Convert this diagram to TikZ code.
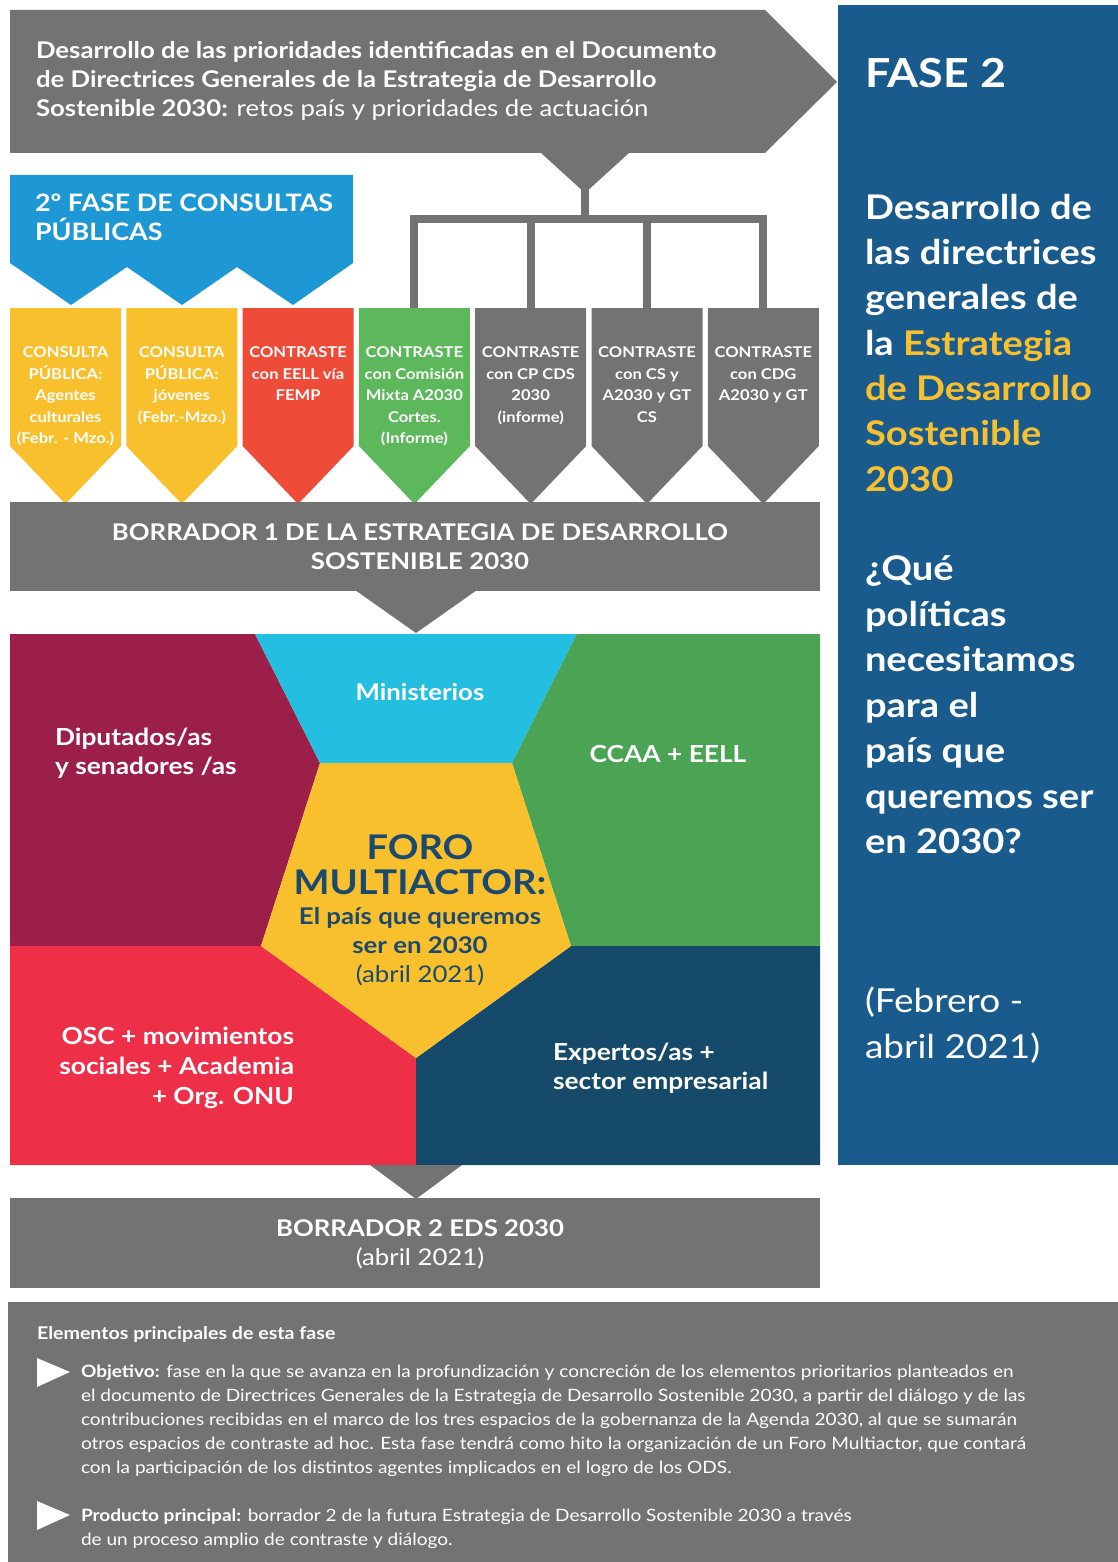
\documentclass[tikz,border=0pt]{standalone}
\usepackage{fontspec}
\setmainfont{Lato}[FakeStretch=1.12]
\definecolor{gris}{RGB}{115,115,115}
\definecolor{azulb}{RGB}{30,152,213}
\definecolor{amar}{RGB}{249,192,45}
\definecolor{rojon}{RGB}{238,76,56}
\definecolor{verdec}{RGB}{92,184,90}
\definecolor{panel}{RGB}{26,91,142}
\definecolor{granate}{RGB}{155,31,73}
\definecolor{cian}{RGB}{36,191,224}
\definecolor{verdef}{RGB}{74,164,84}
\definecolor{rojof}{RGB}{238,47,72}
\definecolor{azulo}{RGB}{21,74,107}
\definecolor{forot}{RGB}{28,74,110}
\newcommand{\fsz}[2]{\fontsize{#1}{#2}\selectfont}
\begin{document}
\begin{tikzpicture}[x=1pt,y=-1pt,
  txt/.style={inner sep=0pt,outer sep=0pt,text=white},
  treeline/.style={draw=gris,line width=8pt,line join=miter,line cap=rect}]
\useasboundingbox (0,0) rectangle (1118,1562);
% right panel
\fill[panel] (838,5) rectangle (1118,1165);
% top arrow
\fill[gris] (10,10) -- (765,10) -- (837,82) -- (765,153) -- (10,153) -- cycle;
\fill[gris] (541,153) -- (629,153) -- (585,193) -- cycle;
% tree
\coordinate (tt) at (585,190);
\coordinate (tb) at (585,219);
\coordinate (c1t) at (414,219); \coordinate (c1b) at (414,310);
\coordinate (c2t) at (530.5,219); \coordinate (c2b) at (530.5,310);
\coordinate (c3t) at (646.5,219); \coordinate (c3b) at (646.5,310);
\coordinate (c4t) at (763,219); \coordinate (c4b) at (763,310);
\draw[treeline] (tt) -- (tb);
\draw[treeline,line cap=butt] (c1b) -- (c1t) -- (c4t) -- (c4b);
\draw[treeline,line cap=butt] (c2t) -- (c2b);
\draw[treeline,line cap=butt] (c3t) -- (c3b);
% blue banner
\fill[azulb] (10,175) -- (353,175) -- (353,263) -- (293,305) -- (237,267) -- (182,305) -- (127,267) -- (71,305) -- (10,263) -- cycle;
\node[txt,anchor=north west,align=left,font=\bfseries\fsz{24}{29}] (banner) at (35,194) {2º FASE DE CONSULTAS\\PÚBLICAS};
% chevrons
\foreach \i/\col/\t in {0/amar/{CONSULTA\\PÚBLICA:\\Agentes\\culturales\\(Febr. - Mzo.)},
  1/amar/{CONSULTA\\PÚBLICA:\\jóvenes\\(Febr.-Mzo.)},
  2/rojon/{CONTRASTE\\con EELL vía\\FEMP},
  3/verdec/{CONTRASTE\\con Comisión\\Mixta A2030\\Cortes.\\(Informe)},
  4/gris/{CONTRASTE\\con CP CDS\\2030\\(informe)},
  5/gris/{CONTRASTE\\con CS y\\A2030 y GT\\CS},
  6/gris/{CONTRASTE\\con CDG\\A2030 y GT}}{
  \pgfmathsetmacro{\L}{10+\i*116.3}
  \pgfmathsetmacro{\R}{\L+111}
  \pgfmathsetmacro{\C}{\L+55.5}
  \fill[\col] (\L,308) -- (\R,308) -- (\R,446) -- (\C,504) -- (\L,446) -- cycle;
  \node[txt,anchor=north,align=center,font=\bfseries\fsz{14.8}{21.5}] (chev\i) at (\C,347) {\t};
}
% borrador 1
\fill[gris] (10,502) rectangle (820,591);
\fill[gris] (355,590) -- (477,590) -- (416,633) -- cycle;
\node[txt,anchor=north,align=center,font=\bfseries\fsz{23}{29}] (b1) at (420,524) {BORRADOR 1 DE LA ESTRATEGIA DE DESARROLLO\\SOSTENIBLE 2030};
% forum
\fill[granate] (10,634) -- (255,634) -- (320,763) -- (261,946) -- (10,946) -- cycle;
\fill[cian] (255,634) -- (577,634) -- (512,763) -- (320,763) -- cycle;
\fill[verdef] (577,634) -- (820,634) -- (820,946) -- (571,946) -- (512,763) -- cycle;
\fill[rojof] (10,946) -- (261,946) -- (416,1058) -- (416,1165) -- (10,1165) -- cycle;
\fill[azulo] (416,1058) -- (571,946) -- (820,946) -- (820,1165) -- (416,1165) -- cycle;
\fill[amar] (320,763) -- (512,763) -- (571,946) -- (416,1058) -- (261,946) -- cycle;
\node[txt,anchor=north,font=\bfseries\fsz{23}{29}] (min) at (420,683) {Ministerios};
\node[txt,anchor=north west,align=left,font=\bfseries\fsz{23.5}{29}] (dip) at (55,728) {Diputados/as\\y senadores /as};
\node[txt,anchor=north,font=\bfseries\fsz{23.5}{29}] (ccaa) at (668,745) {CCAA + EELL};
\node[txt,text=forot,anchor=north,align=center,font=\bfseries\fsz{34}{35}] (foro) at (420,835) {FORO\\MULTIACTOR:};
\node[txt,text=forot,anchor=north,align=center,font=\fsz{23}{29}] (foro2) at (420,907) {\textbf{El país que queremos}\\\textbf{ser en 2030}\\(abril 2021)};
\node[txt,anchor=north east,align=right,font=\bfseries\fsz{23.5}{30}] (osc) at (294,1027) {OSC + movimientos\\sociales + Academia\\+ Org. ONU};
\node[txt,anchor=north west,align=left,font=\bfseries\fsz{23.5}{29}] (exp) at (553,1043) {Expertos/as +\\sector empresarial};
% borrador 2
\fill[gris] (370,1165) -- (462,1165) -- (416,1199) -- cycle;
\fill[gris] (10,1198) rectangle (820,1288);
\node[txt,anchor=north,align=center,font=\fsz{23}{29}] (b2) at (420,1220) {\textbf{BORRADOR 2 EDS 2030}\\(abril 2021)};
% bottom box
\fill[gris] (8,1302) rectangle (1118,1562);
\node[txt,anchor=north west,font=\bfseries\fsz{17.5}{24}] (elem) at (37,1326) {Elementos principales de esta fase};
\fill[white] (37,1358) -- (70,1372) -- (37,1387) -- cycle;
\fill[white] (37,1501) -- (70,1515) -- (37,1530) -- cycle;
\node[txt,anchor=north west,align=left,font=\fsz{17}{24}] (obj) at (81,1365) {\textbf{Objetivo:} fase en la que se avanza en la profundización y concreción de los elementos prioritarios planteados en\\el documento de Directrices Generales de la Estrategia de Desarrollo Sostenible 2030, a partir del diálogo y de las\\contribuciones recibidas en el marco de los tres espacios de la gobernanza de la Agenda 2030, al que se sumarán\\otros espacios de contraste ad hoc. Esta fase tendrá como hito la organización de un Foro Multiactor, que contará\\con la participación de los distintos agentes implicados en el logro de los ODS.};
\node[txt,anchor=north west,align=left,font=\fsz{17}{24}] (prod) at (81,1509) {\textbf{Producto principal:} borrador 2 de la futura Estrategia de Desarrollo Sostenible 2030 a través\\de un proceso amplio de contraste y diálogo.};
% title
\node[txt,anchor=north west,align=left,font=\fsz{23}{29}] (title) at (36,41) {\textbf{Desarrollo de las prioridades identificadas en el Documento}\\\textbf{de Directrices Generales de la Estrategia de Desarrollo}\\\textbf{Sostenible 2030:} retos país y prioridades de actuación};
% right panel text
\node[txt,anchor=north west,font=\bfseries\fsz{40}{46}] (fase) at (865,58) {FASE 2};
\node[txt,anchor=north west,align=left,font=\bfseries\fsz{34}{45.3}] (desc) at (865,194) {Desarrollo de\\las directrices\\generales de\\la \textcolor{amar}{Estrategia}\\\textcolor{amar}{de Desarrollo}\\\textcolor{amar}{Sostenible}\\\textcolor{amar}{2030}};
\node[txt,anchor=north west,align=left,font=\bfseries\fsz{34}{45.5}] (que) at (865,556) {¿Qué\\políticas\\necesitamos\\para el\\país que\\queremos ser\\en 2030?};
\node[txt,anchor=north west,align=left,font=\fsz{33}{46}] (feb) at (865,987) {(Febrero -\\abril 2021)};
\end{tikzpicture}
\end{document}
